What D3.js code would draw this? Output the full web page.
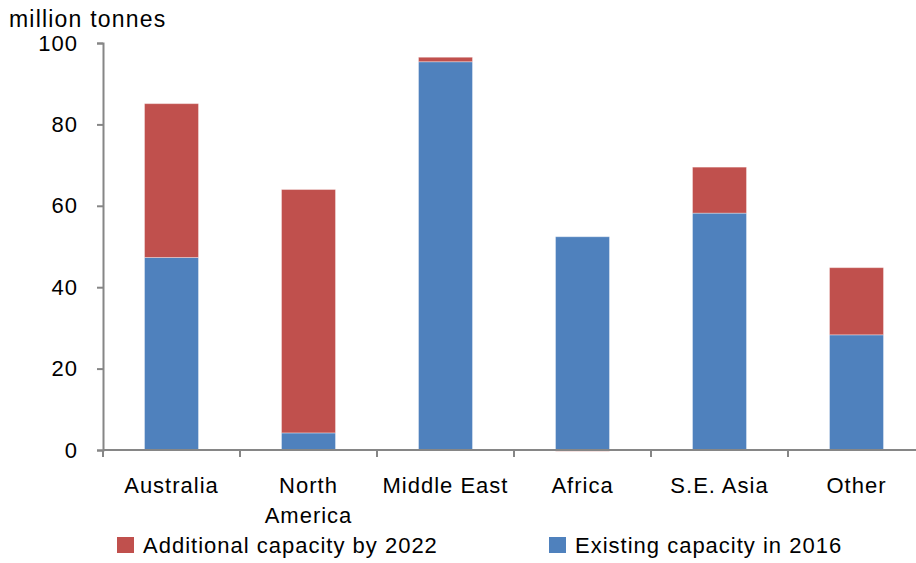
<!DOCTYPE html>
<html>
<head>
<meta charset="utf-8">
<script src="https://cdn.jsdelivr.net/npm/d3@7"></script>
<style>
  html, body { margin: 0; padding: 0; background: #fff; overflow: hidden; }
  svg { display: block; font-family: "Liberation Sans", Arial, sans-serif; }
</style>
</head>
<body>
<svg id="chart" width="916" height="563"></svg>
<script>
// Regional capacity, million tonnes
const categories = ["Australia", "North America", "Middle East", "Africa", "S.E. Asia", "Other"];
const existing2016 = [47.3, 4.2, 95.4, 52.4, 58.2, 28.3];
const additional2022 = [37.8, 59.8, 1.1, -0.3, 11.3, 16.5];
const yTicks = [0, 20, 40, 60, 80, 100];
const seriesNames = ["Existing capacity in 2016", "Additional capacity by 2022"];
const seriesColors = ["#4F81BD", "#C0504D"];

const svg = d3.select("#chart");
const plotLeft = 103, plotRight = 925, plotTop = 43, plotBottom = 450;
const fontSize = 22, spacing = "1px";

const x = d3.scaleBand().domain(categories).range([plotLeft, plotRight]).paddingInner(0.606).paddingOuter(0.303);
const y = d3.scaleLinear().domain([0, 100]).range([plotBottom, plotTop]);

const rows = categories.map((c, i) => ({ cat: c, existing: existing2016[i], additional: additional2022[i] }));
const stack = d3.stack().keys(["existing", "additional"]).offset(d3.stackOffsetDiverging);
const layers = stack(rows);

svg.append("g").selectAll("g").data(layers).join("g")
  .attr("fill", (d, i) => seriesColors[i])
  .selectAll("rect").data(d => d).join("rect")
  .attr("x", d => x(d.data.cat))
  .attr("width", x.bandwidth())
  .attr("y", d => y(Math.max(d[0], d[1])))
  .attr("height", d => Math.abs(y(d[0]) - y(d[1])))
  .attr("stroke", "rgba(255,255,255,0.35)")
  .attr("stroke-width", 1);

// y axis
const yAxis = svg.append("g").attr("transform", `translate(${plotLeft},0)`)
  .call(d3.axisLeft(y).tickValues(yTicks).tickSize(6).tickPadding(19));
yAxis.select(".domain").attr("stroke", "#868686").attr("stroke-width", 2);
yAxis.selectAll(".tick line").attr("stroke", "#868686").attr("stroke-width", 2);
yAxis.selectAll(".tick text").attr("font-size", fontSize).attr("fill", "#000")
  .attr("letter-spacing", spacing)
  .attr("font-family", "Liberation Sans, Arial, sans-serif");

// x axis with ticks between categories
const edges = d3.range(categories.length).map(i => plotLeft + i * x.step());
const xAxisG = svg.append("g");
xAxisG.append("line").attr("x1", plotLeft).attr("x2", plotRight).attr("y1", plotBottom).attr("y2", plotBottom)
  .attr("stroke", "#868686").attr("stroke-width", 2);
xAxisG.selectAll("line.t").data(edges).join("line").attr("class", "t")
  .attr("x1", d => d).attr("x2", d => d).attr("y1", plotBottom).attr("y2", plotBottom + 7)
  .attr("stroke", "#868686").attr("stroke-width", 2);

const labelLines = { "North America": ["North", "America"] };
xAxisG.selectAll("text.c").data(categories).join("text").attr("class", "c")
  .attr("x", d => x(d) + x.bandwidth() / 2)
  .attr("y", 493)
  .attr("text-anchor", "middle").attr("font-size", fontSize).attr("fill", "#000")
  .attr("letter-spacing", spacing)
  .each(function(d) {
    const lines = labelLines[d] || [d];
    d3.select(this).selectAll("tspan").data(lines).join("tspan")
      .attr("x", x(d) + x.bandwidth() / 2).attr("dy", (l, i) => i === 0 ? 0 : 30).text(l => l);
  });

// unit label
svg.append("text").attr("x", 9).attr("y", 27).attr("font-size", 23).attr("letter-spacing", "1.2px")
  .attr("fill", "#000").text("million tonnes");

// legend
const legendItems = [
  { name: seriesNames[1], color: seriesColors[1], x: 117 },
  { name: seriesNames[0], color: seriesColors[0], x: 549 }
];
const lg = svg.append("g").selectAll("g").data(legendItems).join("g")
  .attr("transform", d => `translate(${d.x},537)`);
lg.append("rect").attr("width", 17).attr("height", 16).attr("fill", d => d.color);
lg.append("text").attr("x", 26).attr("y", 16).attr("font-size", fontSize).attr("letter-spacing", spacing)
  .attr("fill", "#000").text(d => d.name);
</script>
</body>
</html>
